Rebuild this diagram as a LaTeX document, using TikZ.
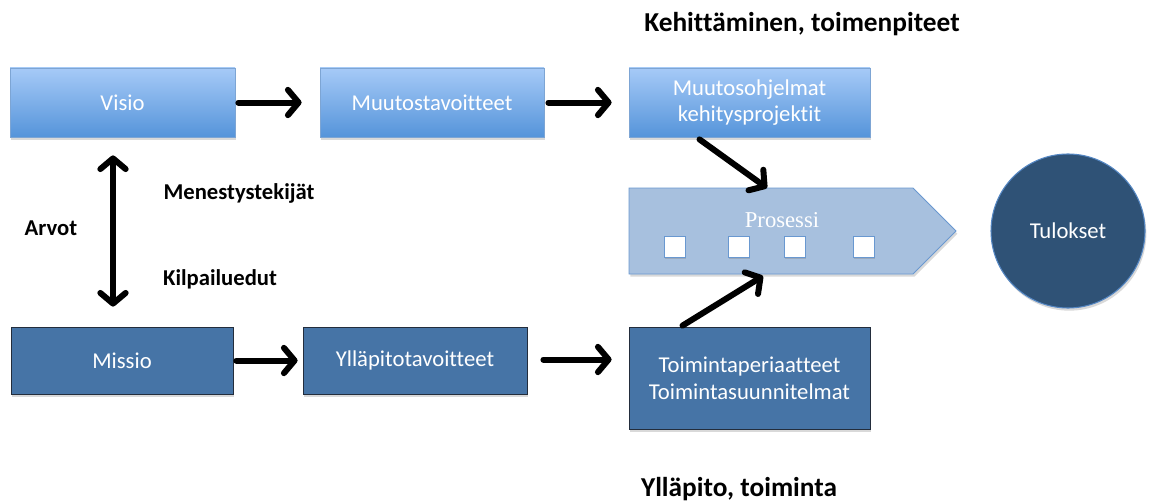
\documentclass[tikz,border=0pt]{standalone}
\usepackage{fontspec}
\setmainfont{Carlito}[Ligatures=NoCommon]
\newfontfamily\procfont{Liberation Serif}
\usetikzlibrary{arrows.meta,shadows,calc}
\definecolor{topfill}{RGB}{166,202,247}
\definecolor{botfill}{RGB}{85,148,218}
\definecolor{topedge}{RGB}{125,165,212}
\definecolor{lowfill}{RGB}{70,116,166}
\definecolor{lowedge}{RGB}{35,45,60}
\definecolor{procfill}{RGB}{167,192,222}
\definecolor{procedge}{RGB}{105,152,208}
\definecolor{resfill}{RGB}{47,82,118}
\definecolor{resedge}{RGB}{85,135,195}
\tikzset{
    top box/.style={rectangle, draw=topedge, line width=0.6pt, top color=topfill, bottom color=botfill,
        text=white, align=center, font=\fontsize{17}{20}\selectfont,
        drop shadow={shadow xshift=1pt, shadow yshift=-2pt, opacity=0.3}},
    low box/.style={rectangle, draw=lowedge, line width=0.6pt, fill=lowfill,
        text=white, align=center, font=\fontsize{17}{20}\selectfont,
        drop shadow={shadow xshift=1pt, shadow yshift=-2pt, opacity=0.3}},
    step mark/.style={rectangle, draw=procedge, line width=0.6pt, fill=white, minimum size=15.5pt,
        drop shadow={shadow xshift=0.5pt, shadow yshift=-1.5pt, opacity=0.35}},
    flow/.style={line width=4.5pt, line cap=round, -{Straight Barb[length=8pt,width=19pt,round]}},
    both flow/.style={line width=4.5pt, line cap=round, {Straight Barb[length=8pt,width=19pt,round]}-{Straight Barb[length=8pt,width=19pt,round]}},
    side text/.style={font=\bfseries\fontsize{17}{20}\selectfont},
    head text/.style={font=\bfseries\fontsize{20.5}{24}\selectfont},
}
\begin{document}
\begin{tikzpicture}[x=0.75pt, y=-0.75pt]
\useasboundingbox (0,0) rectangle (1152,503);
% upper row
\node[top box, minimum width=168.75pt, minimum height=51.75pt] (visio) at (122.5,102.5) {Visio};
\node[top box, minimum width=168pt, minimum height=51.75pt] (mtav) at (432,102.5) {Muutostavoitteet};
\node[top box, minimum width=180.75pt, minimum height=51.75pt] (mohj) at (749.5,102.5) {Muutosohjelmat\\kehitysprojektit};
% lower row
\node[low box, minimum width=166.5pt, minimum height=50.25pt] (missio) at (122,360.5) {Missio};
\node[low box, minimum width=168pt, minimum height=50.25pt] (ytav) at (415,360.5) {Ylläpitotavoitteet};
\node[low box, minimum width=180.75pt, minimum height=76.5pt] (toim) at (749.5,378) {Toimintaperiaatteet\\Toimintasuunnitelmat};
% process arrow
\filldraw[draw=procedge, fill=procfill, line width=0.6pt,
    drop shadow={shadow xshift=1pt, shadow yshift=-2pt, opacity=0.3}]
    (629,188) -- (913,188) -- (956,231) -- (913,274) -- (629,274) -- cycle;
\node[text=white, font=\procfont\fontsize{17}{20}\selectfont] (proc) at (782,220) {Prosessi};
\foreach \sx [count=\i] in {675,739,795,864}
    \node[step mark] (mark\i) at (\sx,247) {};
% result
\node[circle, draw=resedge, line width=0.8pt, fill=resfill, minimum size=115.5pt, text=white,
    font=\fontsize{17}{20}\selectfont,
    drop shadow={shadow xshift=1pt, shadow yshift=-2pt, opacity=0.3}] (tulos) at (1068,231) {Tulokset};
% texts
\node[head text] (kehit) at (802,24) {Kehittäminen, toimenpiteet};
\node[head text] (yllap) at (739,489) {Ylläpito, toiminta};
\node[side text] (menes) at (239,193) {Menestystekijät};
\node[side text] (arvot) at (51,228) {Arvot};
\node[side text] (kilp) at (220,279) {Kilpailuedut};
% connectors
\coordinate (pin) at (767,188);
\coordinate (pout) at (763,276);
\draw[flow] ($(visio.east)+(3,0)$) -- ($(mtav.west)+(-18,0)$);
\draw[flow] ($(mtav.east)+(4,0)$) -- ($(mohj.west)+(-17,0)$);
\draw[flow] ($(missio.east)+(3,0)$) -- ($(ytav.west)+(-5,0)$);
\draw[flow] ($(ytav.east)+(16,-1)$) -- ($(toim.west)+(-17,-18.5)$);
\draw[flow] ($(mohj.south)+(-50,2)$) -- (pin);
\draw[flow] ($(toim.north)+(-67,-1)$) -- (pout);
\draw[both flow] ($(visio.south)+(-9.5,18)$) -- ($(missio.north)+(-9,-20)$);
\end{tikzpicture}
\end{document}
